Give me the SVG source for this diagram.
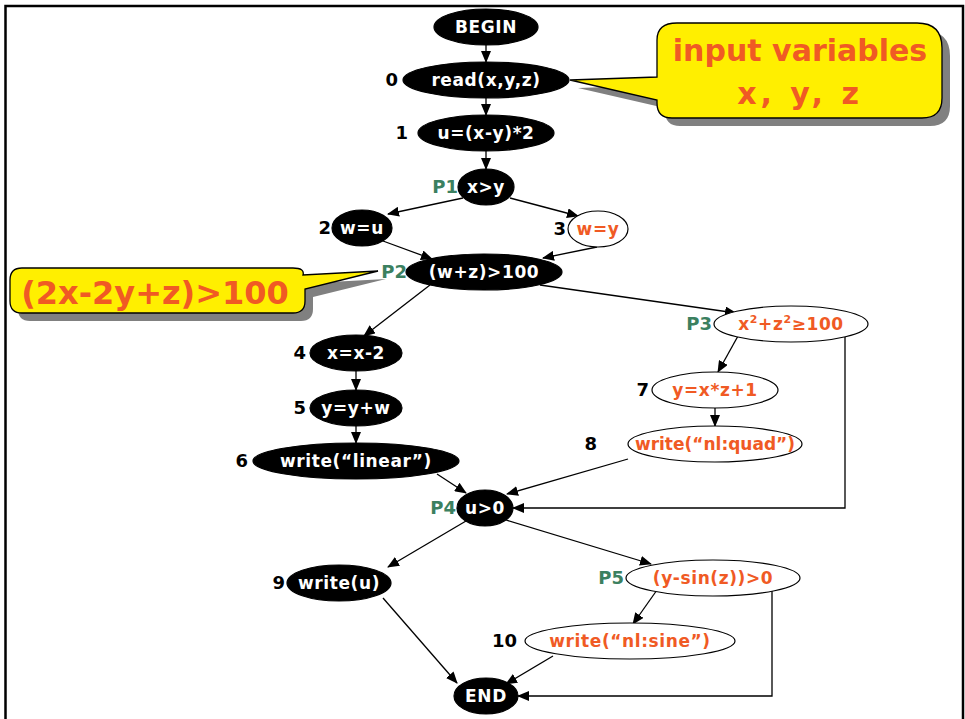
<svg xmlns="http://www.w3.org/2000/svg" width="965" height="719" viewBox="0 0 965 719">
  <defs>
    <marker id="arrow" markerUnits="userSpaceOnUse" markerWidth="12" markerHeight="10" refX="11" refY="5" orient="auto">
      <path d="M0,0 L12,5 L0,10 Z" fill="#000"/>
    </marker>
    <style>
      text { font-family: "DejaVu Sans", "Open Sans", sans-serif; font-weight: 700; }
      .solid { fill: #000; stroke: #000; stroke-width: 1.2; }
      .open { fill: #fff; stroke: #000; stroke-width: 1.2; }
      .wt { fill: #fff; font-size: 17px; letter-spacing: 0.6px; text-anchor: middle; }
      .ot { fill: #f05a24; font-size: 17px; letter-spacing: 0.6px; text-anchor: middle; }
      .tight { letter-spacing: 0px; }
      .num { fill: #000; font-size: 18px; text-anchor: end; }
      .pl { fill: #3b8060; font-size: 18px; text-anchor: end; }
      .edge { fill: none; stroke: #000; stroke-width: 1.3; marker-end: url(#arrow); }
      .bubble { fill: #ffef00; stroke: #000; stroke-width: 1.3; }
      .shadow { fill: #808080; }
      .big { fill: #f05a24; text-anchor: middle; }
    </style>
  </defs>

  <!-- page frame -->
  <rect x="5.5" y="6" width="957.5" height="740" fill="#fff" stroke="#000" stroke-width="2.5"/>

  <!-- callout: input variables -->
  <g id="note-inputs">
    <path class="shadow" transform="translate(8,8)" d="M677,23 H917 Q942,23 942,48 V98 Q942,118 922,118 H672 Q657,118 657,103 V100 L570,80 L657,77 V40 Q657,23 677,23 Z"/>
    <path class="bubble" d="M677,23 H917 Q942,23 942,48 V98 Q942,118 922,118 H672 Q657,118 657,103 V100 L570,80 L657,77 V40 Q657,23 677,23 Z"/>
    <text class="big" x="800" y="61" font-size="30">input variables</text>
    <text class="big" x="800" y="104" font-size="30" letter-spacing="4">x, y, z</text>
  </g>

  <!-- callout: path condition -->
  <g id="note-condition">
    <path class="shadow" transform="translate(8,8)" d="M22,268 H293 Q305,268 303,275 L378,271 L305,289 V301 Q305,313 293,313 H22 Q10,313 10,301 V280 Q10,268 22,268 Z"/>
    <path class="bubble" d="M22,268 H293 Q305,268 303,275 L378,271 L305,289 V301 Q305,313 293,313 H22 Q10,313 10,301 V280 Q10,268 22,268 Z"/>
    <text class="big" x="155" y="304" font-size="32">(2x-2y+z)&gt;100</text>
  </g>

  <!-- connectors -->
  <g id="connectors">
    <path class="edge" d="M486,45 V62"/>
    <path class="edge" d="M486,98 V115"/>
    <path class="edge" d="M486,151 V169"/>
    <path class="edge" d="M463,198 L388,214"/>
    <path class="edge" d="M510,198 L578,216"/>
    <path class="edge" d="M383,241 L432,259"/>
    <path class="edge" d="M597,247 L543,258"/>
    <path class="edge" d="M540,285 L736,313"/>
    <path class="edge" d="M430,285 L364,336"/>
    <path class="edge" d="M356,371 V390"/>
    <path class="edge" d="M356,426 V443"/>
    <path class="edge" d="M437,474 L466,493"/>
    <path class="edge" d="M738,336 L718,372"/>
    <path class="edge" d="M715,408 V426"/>
    <path class="edge" d="M628,459 L507,494"/>
    <path class="edge" d="M845,336 V508 H513"/>
    <path class="edge" d="M466,521 L388,567"/>
    <path class="edge" d="M506,520 L651,564"/>
    <path class="edge" d="M657,590 L633,624"/>
    <path class="edge" d="M772,590 V696 H518"/>
    <path class="edge" d="M383,598 L457,683"/>
    <path class="edge" d="M553,656 L506,684"/>
  </g>

  <!-- nodes -->
  <g id="n-begin">
    <ellipse class="solid" cx="486" cy="27" rx="52" ry="18"/>
    <text class="wt" x="486" y="33">BEGIN</text>
  </g>
  <g id="n0">
    <ellipse class="solid" cx="486" cy="80" rx="83" ry="18"/>
    <text class="wt" x="486" y="86">read(x,y,z)</text>
    <text class="num" x="398" y="86">0</text>
  </g>
  <g id="n1">
    <ellipse class="solid" cx="486" cy="133" rx="68" ry="18"/>
    <text class="wt" x="486" y="139">u=(x-y)*2</text>
    <text class="num" x="408" y="139">1</text>
  </g>
  <g id="p1">
    <ellipse class="solid" cx="486" cy="187" rx="28" ry="18"/>
    <text class="wt" x="486" y="193">x&gt;y</text>
    <text class="pl" x="458" y="193">P1</text>
  </g>
  <g id="n2">
    <ellipse class="solid" cx="362" cy="228" rx="30" ry="18"/>
    <text class="wt" x="362" y="234">w=u</text>
    <text class="num" x="331" y="234">2</text>
  </g>
  <g id="n3">
    <ellipse class="open" cx="598" cy="229" rx="30" ry="18"/>
    <text class="ot" x="598" y="235">w=y</text>
    <text class="num" x="566" y="235">3</text>
  </g>
  <g id="p2">
    <ellipse class="solid" cx="484" cy="272" rx="78" ry="18"/>
    <text class="wt" x="484" y="278">(w+z)&gt;100</text>
    <text class="pl" x="407" y="278">P2</text>
  </g>
  <g id="p3">
    <ellipse class="open" cx="791" cy="324" rx="77" ry="18"/>
    <text class="ot" x="791" y="330">x<tspan font-size="11" dy="-7">2</tspan><tspan dy="7">+z</tspan><tspan font-size="11" dy="-7">2</tspan><tspan dy="7">≥100</tspan></text>
    <text class="pl" x="712" y="330">P3</text>
  </g>
  <g id="n4">
    <ellipse class="solid" cx="356" cy="353" rx="46" ry="18"/>
    <text class="wt" x="356" y="359">x=x-2</text>
    <text class="num" x="306" y="359">4</text>
  </g>
  <g id="n5">
    <ellipse class="solid" cx="356" cy="408" rx="46" ry="18"/>
    <text class="wt" x="356" y="414">y=y+w</text>
    <text class="num" x="306" y="414">5</text>
  </g>
  <g id="n6">
    <ellipse class="solid" cx="356" cy="461" rx="103" ry="18"/>
    <text class="wt" x="356" y="467">write(“linear”)</text>
    <text class="num" x="248" y="467">6</text>
  </g>
  <g id="n7">
    <ellipse class="open" cx="715" cy="390" rx="63" ry="18"/>
    <text class="ot" x="715" y="396">y=x*z+1</text>
    <text class="num" x="649" y="396">7</text>
  </g>
  <g id="n8">
    <ellipse class="open" cx="715" cy="444" rx="87" ry="18"/>
    <text class="ot tight" x="715" y="450">write(“nl:quad”)</text>
    <text class="num" x="597" y="450">8</text>
  </g>
  <g id="p4">
    <ellipse class="solid" cx="485" cy="508" rx="28" ry="18"/>
    <text class="wt" x="485" y="514">u&gt;0</text>
    <text class="pl" x="456" y="514">P4</text>
  </g>
  <g id="n9">
    <ellipse class="solid" cx="339" cy="583" rx="52" ry="18"/>
    <text class="wt" x="339" y="589">write(u)</text>
    <text class="num" x="285" y="589">9</text>
  </g>
  <g id="p5">
    <ellipse class="open" cx="713" cy="578" rx="87" ry="18"/>
    <text class="ot" x="713" y="584">(y-sin(z))&gt;0</text>
    <text class="pl" x="624" y="584">P5</text>
  </g>
  <g id="n10">
    <ellipse class="open" cx="630" cy="641" rx="105" ry="18"/>
    <text class="ot" x="630" y="647">write(“nl:sine”)</text>
    <text class="num" x="517" y="647">10</text>
  </g>
  <g id="n-end">
    <ellipse class="solid" cx="486" cy="696" rx="32" ry="18"/>
    <text class="wt" x="486" y="702">END</text>
  </g>
</svg>
